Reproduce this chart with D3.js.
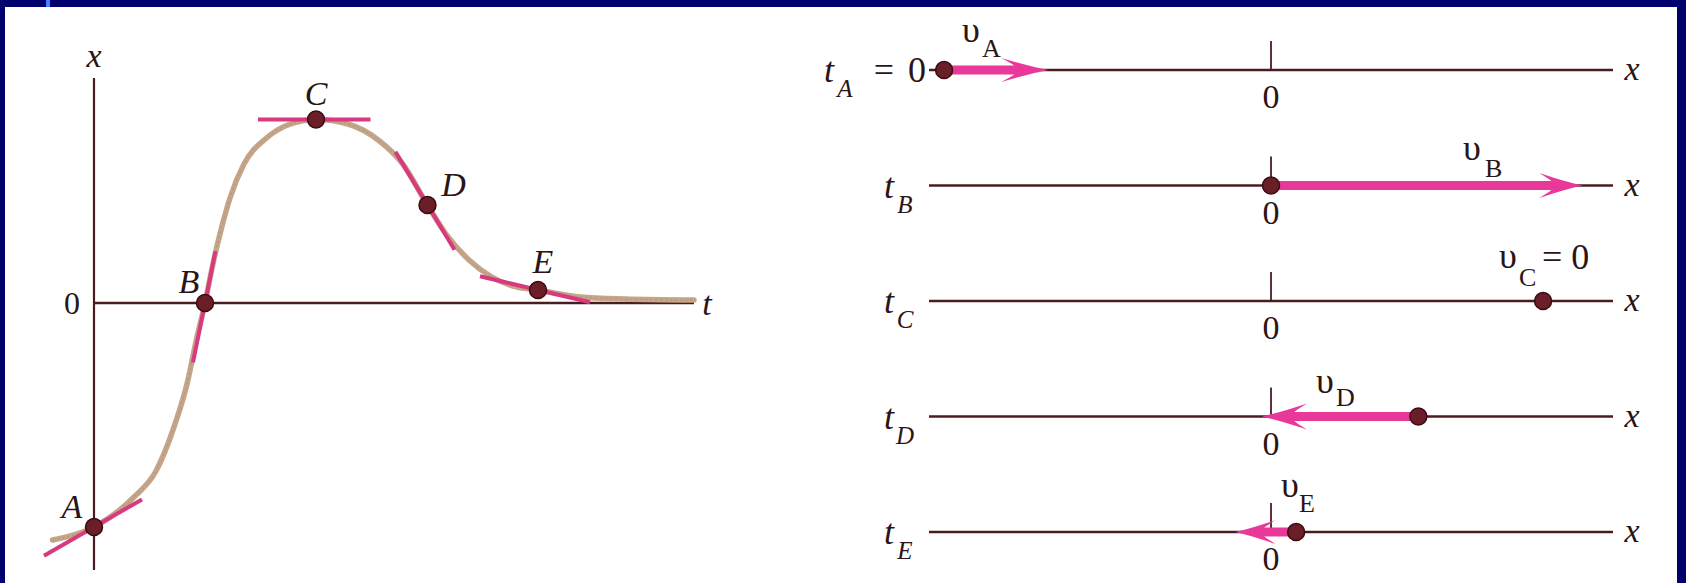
<!DOCTYPE html>
<html>
<head>
<meta charset="utf-8">
<script src="https://cdn.jsdelivr.net/npm/d3@7"></script>
<style>
  html, body { margin: 0; padding: 0; background: #fff; }
  svg { display: block; }
  text { font-family: "Liberation Serif", "DejaVu Serif", serif; fill: #2b1416; }
</style>
</head>
<body>
<svg id="chart" width="1686" height="583"></svg>
<script>
// ---------- DATA ----------
// Left graph: position x versus time t (arbitrary units)
const curveT = [-0.83, 0, 0.8, 1.24, 1.6, 1.87, 2.04, 2.22, 2.4, 2.55, 2.72, 3.0, 3.45, 3.9, 4.44, 5.08, 5.71, 6.16, 6.67, 7.04, 7.5, 7.94, 8.38, 8.88, 9.72, 10.62, 12];
const curveX = [-4.74, -4.48, -3.88, -3.36, -2.48, -1.58, -0.77, 0, 0.88, 1.5, 2.1, 2.78, 3.3, 3.57, 3.67, 3.58, 3.24, 2.8, 1.96, 1.38, 0.86, 0.53, 0.34, 0.26, 0.12, 0.08, 0.06];

const pointLabels = ["A", "B", "C", "D", "E"];
const pointT = [0, 2.22, 4.44, 6.67, 8.88];
const pointX = [-4.48, 0, 3.67, 1.96, 0.26];
const tangentSlope = [0.575, 4.94, 0, -1.66, -0.236];
const tangentFrom = [-1.0, -0.24, -1.16, -0.64, -1.16];   // t offset of tangent start
const tangentTo = [0.96, 0.21, 1.09, 0.54, 1.04];         // t offset of tangent end

// Right panel: positions on the x axis and velocity arrows at each instant
const rowLabels = ["A", "B", "C", "D", "E"];
const rowPosition = [-6.5, 0, 5.41, 2.93, 0.5];
const rowVelocity = [2.07, 6.19, 0, -3.11, -1.21];

// ---------- LAYOUT ----------
const svg = d3.select("#chart");
const W = 1686, H = 583;

const C_AXIS = "#4b1c1f", C_CURVE = "#c4a589", C_TAN = "#d8397f",
      C_ARROW = "#e8399a", C_DOT = "#6a1e27", C_DOTS = "#3b0b12";

svg.append("rect").attr("width", W).attr("height", H).attr("fill", "#fff");

// ---- left graph scales ----
const tScale = d3.scaleLinear().domain([0, 12]).range([94, 694]);
const xScale = d3.scaleLinear().domain([0, 4]).range([303, 103]);

const L = svg.append("g");
// axes
L.append("line").attr("x1", tScale(0)).attr("x2", tScale(0))
  .attr("y1", xScale(4.5)).attr("y2", xScale(-5.34))
  .attr("stroke", C_AXIS).attr("stroke-width", 2.2);
L.append("line").attr("x1", tScale(0)).attr("x2", tScale(12))
  .attr("y1", xScale(0)).attr("y2", xScale(0))
  .attr("stroke", C_AXIS).attr("stroke-width", 2.4);

L.append("text").attr("x", tScale(0)).attr("y", 67).attr("text-anchor", "middle")
  .attr("font-size", 34).attr("font-style", "italic").text("x");
L.append("text").attr("x", tScale(0) - 22).attr("y", xScale(0) + 11).attr("text-anchor", "middle")
  .attr("font-size", 32).text("0");
L.append("text").attr("x", tScale(12) + 13).attr("y", xScale(0) + 12).attr("text-anchor", "middle")
  .attr("font-size", 34).attr("font-style", "italic").text("t");

// curve
const curveData = curveT.map((t, i) => [t, curveX[i]]);
const lineGen = d3.line().x(d => tScale(d[0])).y(d => xScale(d[1])).curve(d3.curveMonotoneX);
L.append("path").attr("d", lineGen(curveData)).attr("fill", "none")
  .attr("stroke", C_CURVE).attr("stroke-width", 5.5).attr("stroke-linecap", "round");
L.append("path").attr("d", lineGen(curveData)).attr("fill", "none")
  .attr("stroke", "#a8876c").attr("stroke-width", 1).attr("stroke-dasharray", "2 3").attr("opacity", 0.6);

// tangents
pointT.forEach((t, i) => {
  const t0 = t + tangentFrom[i], t1 = t + tangentTo[i];
  const s = tangentSlope[i];
  L.append("line")
    .attr("x1", tScale(t0)).attr("y1", xScale(pointX[i] + s * tangentFrom[i]))
    .attr("x2", tScale(t1)).attr("y2", xScale(pointX[i] + s * tangentTo[i]))
    .attr("stroke", C_TAN).attr("stroke-width", 4);
});
// dots
pointT.forEach((t, i) => {
  L.append("circle").attr("cx", tScale(t)).attr("cy", xScale(pointX[i])).attr("r", 8.5)
    .attr("fill", C_DOT).attr("stroke", C_DOTS).attr("stroke-width", 1.5);
});
// point labels
const labelOff = [[-22, -9], [-16, -10], [0, -15], [26, -9], [5, -17]];
pointLabels.forEach((lab, i) => {
  L.append("text").attr("x", tScale(pointT[i]) + labelOff[i][0])
    .attr("y", xScale(pointX[i]) + labelOff[i][1]).attr("text-anchor", "middle")
    .attr("font-size", 34).attr("font-style", "italic").text(lab);
});

// ---- right panel ----
const posScale = d3.scaleLinear().domain([-6.8, 6.8]).range([929, 1613]);
const rowScale = d3.scalePoint().domain(rowLabels).range([70, 532]);
const R = svg.append("g");

function arrowPath(x0, xt, y, headLen, hh, sh) {
  const dir = xt > x0 ? 1 : -1;
  const xb = xt - dir * headLen;           // back of barbs
  const xn = xt - dir * headLen * 0.72;    // notch
  return `M${x0},${y - sh}L${xn},${y - sh}` +
    `Q${xn - dir * 2},${y - hh * 0.5} ${xb},${y - hh}` +
    `Q${xt - dir * headLen * 0.45},${y - hh * 0.35} ${xt},${y}` +
    `Q${xt - dir * headLen * 0.45},${y + hh * 0.35} ${xb},${y + hh}` +
    `Q${xn - dir * 2},${y + hh * 0.5} ${xn},${y + sh}` +
    `L${x0},${y + sh}Z`;
}

const headLens = [47, 43, 0, 45, 40];
const headHs = [12, 12.5, 0, 13, 12];
rowLabels.forEach((lab, i) => {
  const y = rowScale(lab);
  // number line
  R.append("line").attr("x1", posScale(-6.8)).attr("x2", posScale(6.8))
    .attr("y1", y).attr("y2", y).attr("stroke", C_AXIS).attr("stroke-width", 2.3);
  // tick at 0
  R.append("line").attr("x1", posScale(0)).attr("x2", posScale(0))
    .attr("y1", y - 29).attr("y2", y).attr("stroke", C_AXIS).attr("stroke-width", 1.8);
  // 0 label
  R.append("text").attr("x", posScale(0)).attr("y", y + 38).attr("text-anchor", "middle")
    .attr("font-size", 34).text("0");
  // x label
  R.append("text").attr("x", posScale(6.8) + 19).attr("y", y + 10).attr("text-anchor", "middle")
    .attr("font-size", 34).attr("font-style", "italic").text("x");
  // arrow
  const v = rowVelocity[i];
  if (v !== 0) {
    const x0 = posScale(rowPosition[i]);
    const xt = posScale(rowPosition[i] + v);
    R.append("path").attr("d", arrowPath(x0, xt, y, headLens[i], headHs[i], 4.5))
      .attr("fill", C_ARROW);
  }
  // dot
  R.append("circle").attr("cx", posScale(rowPosition[i])).attr("cy", y).attr("r", 8.5)
    .attr("fill", C_DOT).attr("stroke", C_DOTS).attr("stroke-width", 1.5);
});

// t labels
rowLabels.forEach((lab, i) => {
  const y = rowScale(lab);
  const tx = i === 0 ? 829 : 889;
  R.append("text").attr("x", tx).attr("y", y + 12).attr("text-anchor", "middle")
    .attr("font-size", 36).attr("font-style", "italic").text("t");
  R.append("text").attr("x", tx + 16).attr("y", y + 27).attr("text-anchor", "middle")
    .attr("font-size", 25).attr("font-style", "italic").text(lab);
});
R.append("text").attr("x", 884).attr("y", rowScale("A") + 12).attr("text-anchor", "middle")
  .attr("font-size", 36).text("=");
R.append("text").attr("x", 917).attr("y", rowScale("A") + 12).attr("text-anchor", "middle")
  .attr("font-size", 36).text("0");

// velocity labels (υ with upright subscript)
const vLab = [[962, 42, 982, 57], [1463, 160, 1485, 177], [1499, 268, 1519, 286], [1316, 393, 1336, 406], [1281, 497, 1299, 512]];
rowLabels.forEach((lab, i) => {
  const p = vLab[i];
  R.append("text").attr("x", p[0]).attr("y", p[1]).attr("font-size", 36).text("υ");
  R.append("text").attr("x", p[2]).attr("y", p[3]).attr("font-size", 26).text(lab);
});
R.append("text").attr("x", 1542).attr("y", 269).attr("font-size", 36).text("= 0");

// frame
const B = "#00006e";
svg.append("rect").attr("x", 0).attr("y", 0).attr("width", W).attr("height", 7).attr("fill", B);
svg.append("rect").attr("x", 0).attr("y", 0).attr("width", 5).attr("height", H).attr("fill", B);
svg.append("rect").attr("x", 1677).attr("y", 0).attr("width", 9).attr("height", H).attr("fill", B);
svg.append("rect").attr("x", 46).attr("y", 0).attr("width", 4).attr("height", 7).attr("fill", "#4a7dff");
</script>
</body>
</html>
